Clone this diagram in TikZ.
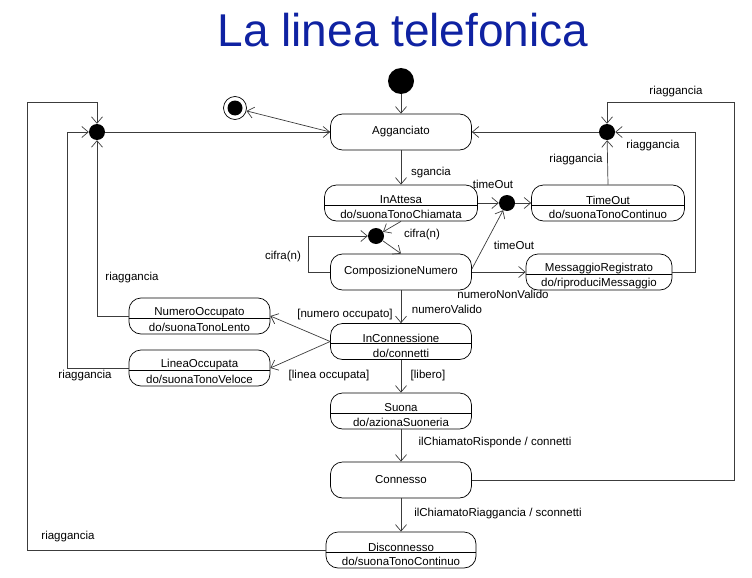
\documentclass[tikz,border=0pt]{standalone}
\usepackage{fontspec}
\setmainfont{Liberation Sans}
\usepackage{tikz}
\usetikzlibrary{arrows.meta, positioning, calc}
\definecolor{ctitle}{HTML}{0F22A2}
\definecolor{cline}{HTML}{3C3C3C}

% stato con compartimento: nome sopra, attivita' sotto
\newcommand{\statoatt}[6]{%
  \node[stato, minimum width=#4] (#1) at (#2,#3) {};
  \draw[line width=0.7pt] ($(#1.west)+(0,2)$) -- ($(#1.east)+(0,2)$);
  \node[testo] (#1-nome) at ($(#1)+(0,-3)$) {#5};
  \node[testo] (#1-att) at ($(#1)+(0,11.5)$) {#6};
}

\begin{document}
\begin{tikzpicture}[x=1pt, y=-1pt,
  >={Straight Barb[length=6.5pt,width=11pt]},
  stato/.style={draw, rounded corners=12pt, minimum height=36pt, inner sep=0pt, line width=0.7pt},
  nodo/.style={circle, fill, inner sep=0pt, minimum size=16pt},
  testo/.style={inner sep=0pt, font=\fontsize{11.5}{13}\selectfont},
  lab/.style={testo},
  tr/.style={->, cline, line width=0.7pt}]
  \useasboundingbox (0,0) rectangle (752,578);

  \node[ctitle, font=\fontsize{46}{50}\selectfont] (titolo) at (403,30) {La linea telefonica};

  % pseudostati
  \node[nodo, minimum size=26pt] (init) at (401,81) {};
  \node[circle, draw, inner sep=0pt, minimum size=23pt, line width=0.7pt] (fin) at (235,108) {};
  \node[nodo, minimum size=15pt] (fin-dot) at (fin) {};
  \node[nodo] (jl) at (97,132) {};
  \node[nodo] (jr) at (607,132) {};
  \node[nodo] (jt) at (507,203) {};
  \node[nodo] (jc) at (376,236) {};

  % stati
  \node[stato, minimum width=141] (aggan) at (401,132) {};
  \node[testo] (aggan-nome) at (aggan) {Agganciato};
  \statoatt{inattesa}{401}{203}{153}{InAttesa}{do/suonaTonoChiamata}
  \statoatt{timeout}{608}{203}{153}{TimeOut}{do/suonaTonoContinuo}
  \node[stato, minimum width=141] (compos) at (401,272) {};
  \node[testo] (compos-nome) at (compos) {ComposizioneNumero};
  \statoatt{messag}{599}{272}{146}{MessaggioRegistrato}{do/riproduciMessaggio}
  \statoatt{numocc}{199.5}{316}{141}{NumeroOccupato}{do/suonaTonoLento}
  \statoatt{incon}{401}{341.5}{141}{InConnessione}{do/connetti}
  \statoatt{lineaocc}{199.5}{368}{141}{LineaOccupata}{do/suonaTonoVeloce}
  \statoatt{suona}{401}{411}{141}{Suona}{do/azionaSuoneria}
  \node[stato, minimum width=141] (conn) at (401,480) {};
  \node[testo] (conn-nome) at (conn) {Connesso};
  \statoatt{disc}{401}{550}{150}{Disconnesso}{do/suonaTonoContinuo}

  % transizioni colonna centrale
  \draw[tr] (init) -- (aggan);
  \draw[tr] (aggan.west) -- (fin);
  \draw[tr] (jl) -- (aggan);
  \draw[tr] (jr) -- (aggan);
  \draw[tr] (aggan) -- (inattesa);
  \draw[tr] (inattesa.east) -- (jt);
  \draw[tr] (jt) -- (timeout);
  \draw[tr] ([yshift=3pt]compos.east) -- (jt);
  \draw[tr] (inattesa.south) -- (jc);
  \draw[tr] (jc) -- (compos.north);
  \draw[tr] (compos.west) -- ++(-22,0) |- (jc);
  \draw[tr] (compos.east) -- (messag);
  \draw[tr] (compos) -- (incon);
  \draw[tr] (incon.west) -- (numocc.east);
  \draw[tr] (incon.west) -- (lineaocc.east);
  \draw[tr] (incon) -- (suona);
  \draw[tr] (suona) -- (conn);
  \draw[tr] (conn) -- (disc);

  % riaggancia a sinistra
  \draw[tr] (disc.west) -| (27,102) -| (jl);
  \draw[tr] (lineaocc.west) -| (67,132) -- (jl);
  \draw[tr] (numocc.west) -| (jl);
  % riaggancia a destra
  \draw[tr] (timeout.north) -- (jr);
  \draw[tr] (messag.east) -| (695,132) -- (jr);
  \draw[tr] (conn.east) -| (734,102) -| (jr);

  % etichette
  \node[lab] (l-sgancia) at (431,173) {sgancia};
  \node[lab] (l-timeout1) at (493,184) {timeOut};
  \node[lab] (l-timeout2) at (514,245) {timeOut};
  \node[lab] (l-cifra1) at (422,235) {cifra(n)};
  \node[lab] (l-cifra2) at (283,257) {cifra(n)};
  \node[lab] (l-nonvalido) at (503,294) {numeroNonValido};
  \node[lab] (l-valido) at (447,309) {numeroValido};
  \node[lab] (l-numocc) at (345,315) {[numero occupato]};
  \node[lab] (l-lineaocc) at (329,376) {[linea occupata]};
  \node[lab] (l-libero) at (428,376) {[libero]};
  \node[lab] (l-risponde) at (495,443) {ilChiamatoRisponde / connetti};
  \node[lab] (l-riagg-chiam) at (498,514) {ilChiamatoRiaggancia / sconnetti};
  \node[lab] (l-riagg1) at (132,278) {riaggancia};
  \node[lab] (l-riagg2) at (85,376) {riaggancia};
  \node[lab] (l-riagg3) at (68,537) {riaggancia};
  \node[lab] (l-riagg4) at (576,160) {riaggancia};
  \node[lab] (l-riagg5) at (653,146) {riaggancia};
  \node[lab] (l-riagg6) at (676,92) {riaggancia};
\end{tikzpicture}
\end{document}
